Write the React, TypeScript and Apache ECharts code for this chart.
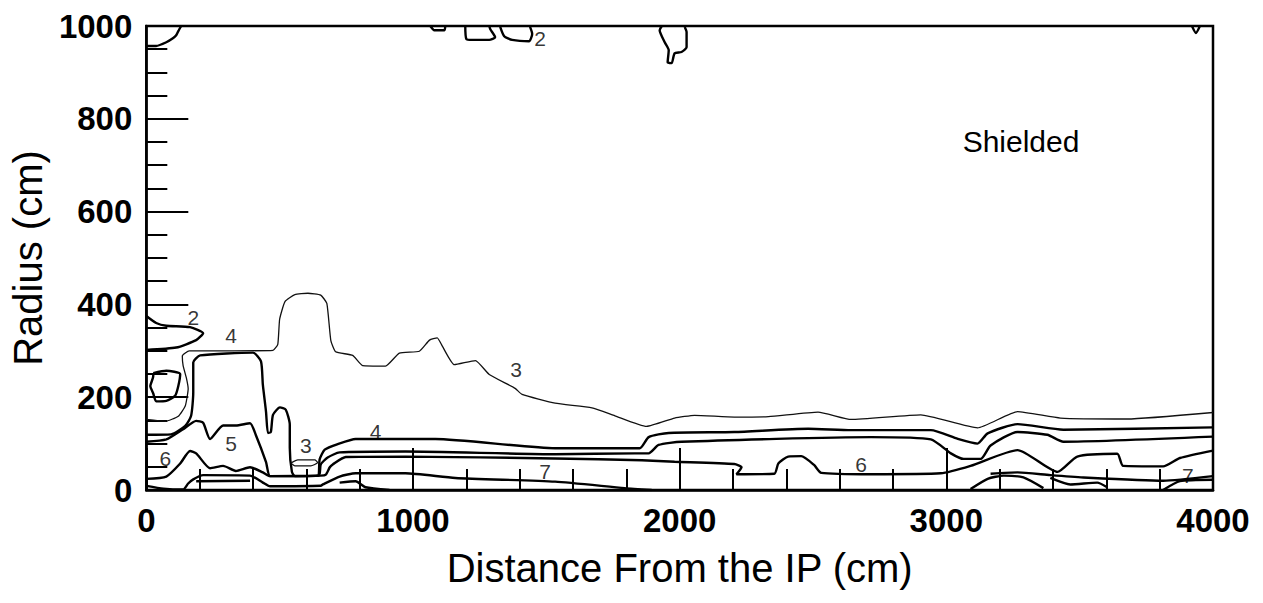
import React, { useEffect, useRef } from "react";
import * as echarts from "echarts";

// Axis ranges (cm)
const X_RANGE = [0, 4000];
const Y_RANGE = [0, 1000];

// Contour lines, [distance (cm), radius (cm)]
const contour2Left = [[0, 375], [37, 360], [75, 354], [164, 351], [213, 338], [187, 323], [112, 307], [0, 302]];
const contourTopLeft = [[0, 957], [37, 957], [75, 965], [101, 974], [112, 980], [120, 989], [131, 1000]];
const contourTopTiny = [[1065, 1000], [1080, 991], [1118, 991], [1121, 1000]];
const contourTopA = [[1196, 1000], [1200, 972], [1222, 970], [1286, 970], [1308, 976], [1290, 993], [1286, 1000]];
const contourTopB = [[1327, 998], [1342, 978], [1372, 970], [1435, 967], [1447, 983], [1439, 998]];
const contourIcicle = [[1933, 1000], [1925, 991], [1944, 965], [1959, 948], [1955, 922], [1970, 920], [1981, 941], [2007, 944], [2026, 954], [2026, 987], [2019, 998]];
const contourCorner = [[3921, 1000], [3936, 985], [3951, 1000]];

const contour3 = [
  [0, 152], [71, 148], [120, 159], [146, 181], [157, 218], [150, 242], [138, 268], [135, 289], [161, 300],
  [325, 300], [475, 301], [493, 314], [500, 368], [520, 406], [557, 421], [606, 424], [654, 420], [677, 402],
  [692, 322], [710, 298], [774, 290], [811, 268], [897, 267], [949, 295], [1024, 299], [1062, 323], [1091, 328],
  [1110, 310], [1155, 270], [1234, 279], [1286, 249], [1383, 219], [1409, 206], [1533, 187], [1671, 177],
  [1757, 160], [1876, 137], [1981, 155], [2056, 161], [2205, 157], [2333, 158], [2519, 168], [2643, 152],
  [2904, 162], [3117, 134], [3267, 169], [3428, 155], [3678, 153], [4000, 167],
];
const contour3Ellipse = [[542, 58], [568, 65], [632, 65], [643, 59], [617, 52], [557, 52], [542, 58]];
const contourLoopLeft = [[26, 252], [75, 257], [127, 250], [120, 224], [108, 203], [75, 192], [37, 191], [26, 208], [15, 224], [26, 245], [26, 252]];

const contour4 = [
  [0, 119], [93, 120], [146, 138], [168, 160], [176, 210], [176, 275], [202, 290], [400, 296], [430, 277],
  [437, 227], [449, 168], [456, 123], [467, 125], [475, 162], [501, 178], [523, 173], [538, 141], [538, 91],
  [546, 39], [557, 30], [643, 31], [650, 66], [669, 87], [718, 99], [785, 110], [1084, 110], [1533, 90],
  [1850, 90], [1884, 114], [1959, 123], [2205, 125], [2482, 132], [2643, 129], [2942, 129], [3043, 110],
  [3117, 100], [3155, 122], [3267, 142], [3439, 130], [4000, 135],
];
const contour5 = [
  [0, 104], [75, 109], [138, 131], [187, 149], [213, 145], [239, 110], [288, 139], [336, 139], [389, 144],
  [411, 118], [449, 60], [464, 30], [546, 30], [647, 31], [654, 55], [680, 70], [725, 81], [972, 83],
  [1533, 77], [1832, 79], [1884, 79], [1921, 97], [2007, 104], [2718, 114], [2942, 109], [3017, 79],
  [3065, 67], [3129, 67], [3166, 96], [3267, 125], [3379, 119], [3439, 104], [4000, 115],
];
const contour6 = [
  [0, 24], [75, 29], [127, 57], [164, 84], [187, 79], [239, 47], [288, 52], [336, 41], [389, 49], [437, 38],
  [464, 30], [654, 31], [673, 33], [688, 49], [699, 55], [748, 71], [972, 72], [1533, 68], [1858, 64],
  [1981, 61], [2205, 56], [2232, 49], [2213, 34], [2355, 35], [2370, 57], [2407, 72], [2456, 73], [2504, 54],
  [2531, 37], [2718, 34], [2979, 36], [3091, 52], [3267, 86], [3417, 39], [3491, 72], [3641, 78], [3663, 52],
  [3813, 51], [3876, 69], [4000, 85],
];
const contour7 = [
  [0, 9], [64, 3], [138, 1], [157, 14], [176, 23], [213, 32], [389, 31], [437, 16], [464, 8], [654, 9],
  [662, 12], [725, 29], [785, 36], [972, 36], [1159, 26], [1533, 18], [1794, 4], [1895, 0],
];
const contour7Inner = [[187, 19], [389, 20]];
const contour7Low = [[725, 16], [785, 19], [822, 6], [912, 0]];
const contour7RightLoop = [[3091, 2], [3155, 24], [3215, 31], [3289, 27], [3364, 4]];
const contour7Right = [[3166, 35], [3267, 38], [3390, 32], [3514, 27], [3813, 20], [4000, 30]];
const contour7Wiggle = [[3390, 26], [3465, 12], [3566, 16], [3603, 6]];
const contour7End = [[3813, 0], [3876, 19], [4000, 22]];

// Contour level labels: [distance, radius, text]
const levelLabels: [number, number, string][] = [
  [176, 372, "2"], [1477, 973, "2"], [318, 332, "4"], [318, 100, "5"], [71, 68, "6"], [598, 96, "3"],
  [860, 126, "4"], [1387, 260, "3"], [1495, 40, "7"], [2680, 55, "6"], [3906, 32, "7"],
];

const thickLines = [
  contour2Left, contourTopLeft, contourTopTiny, contourTopA, contourTopB, contourIcicle, contourCorner,
  contourLoopLeft, contour4, contour5, contour6, contour7, contour7Inner, contour7Low,
  contour7RightLoop, contour7Right, contour7Wiggle, contour7End,
];
const thinLines = [contour3, contour3Ellipse];

const FONT = "'Liberation Sans', Arial, Helvetica, sans-serif";

export default function App() {
  const ref = useRef<HTMLDivElement>(null);
  useEffect(() => {
    document.body.style.margin = "0";
    if (!ref.current) return;
    const chart = echarts.init(ref.current, null, { renderer: "svg" });
    const series: any[] = [];
    thickLines.forEach((d) =>
      series.push({
        type: "line", data: d, symbol: "none", smooth: 0.2, silent: true,
        lineStyle: { color: "#000", width: 2.4 },
      })
    );
    thinLines.forEach((d) =>
      series.push({
        type: "line", data: d, symbol: "none", smooth: 0.15, silent: true,
        lineStyle: { color: "#111", width: 1.3 },
      })
    );
    series.push({
      type: "scatter", symbolSize: 0, silent: true,
      data: levelLabels.map((l) => ({
        value: [l[0], l[1]],
        label: { show: true, position: "inside", formatter: l[2], fontSize: 21, color: "#000", fontFamily: FONT },
      })),
    });
    chart.setOption({
      animation: false,
      backgroundColor: "#fff",
      grid: { left: 143, right: 50, top: 26, bottom: 113, show: true, borderColor: "#000", borderWidth: 2.5 },
      xAxis: {
        type: "value", min: X_RANGE[0], max: X_RANGE[1], interval: 1000,
        name: "Distance From the IP (cm)", nameLocation: "middle", nameGap: 58,
        nameTextStyle: { fontSize: 40, color: "#000", fontFamily: FONT },
        axisLine: { show: true, lineStyle: { color: "#000", width: 2.5 } },
        axisTick: { show: true, inside: true, length: 42, lineStyle: { color: "#000", width: 2 } },
        minorTick: { show: true, splitNumber: 5, length: 21, lineStyle: { color: "#000", width: 2 } },
        axisLabel: {
          fontSize: 33, fontWeight: "bold", color: "#000", fontFamily: FONT, margin: 14,
          formatter: (v: number) => String(v),
        },
        splitLine: { show: false },
      },
      yAxis: {
        type: "value", min: Y_RANGE[0], max: Y_RANGE[1], interval: 200,
        name: "Radius (cm)", nameLocation: "middle", nameGap: 93,
        nameTextStyle: { fontSize: 40, color: "#000", fontFamily: FONT },
        axisLine: { show: true, lineStyle: { color: "#000", width: 2.5 } },
        axisTick: { show: true, inside: true, length: 42, lineStyle: { color: "#000", width: 2 } },
        minorTick: { show: true, splitNumber: 4, length: 21, lineStyle: { color: "#000", width: 2 } },
        axisLabel: {
          fontSize: 33, fontWeight: "bold", color: "#000", fontFamily: FONT, margin: 14,
          formatter: (v: number) => String(v),
        },
        splitLine: { show: false },
      },
      graphic: [
        {
          type: "text", x: 1021, y: 141,
          style: { text: "Shielded", fontSize: 30, fill: "#000", fontFamily: FONT, align: "center", verticalAlign: "middle" },
        },
      ],
      series,
    });
    return () => chart.dispose();
  }, []);
  return <div ref={ref} style={{ width: 1263, height: 603 }} />;
}
